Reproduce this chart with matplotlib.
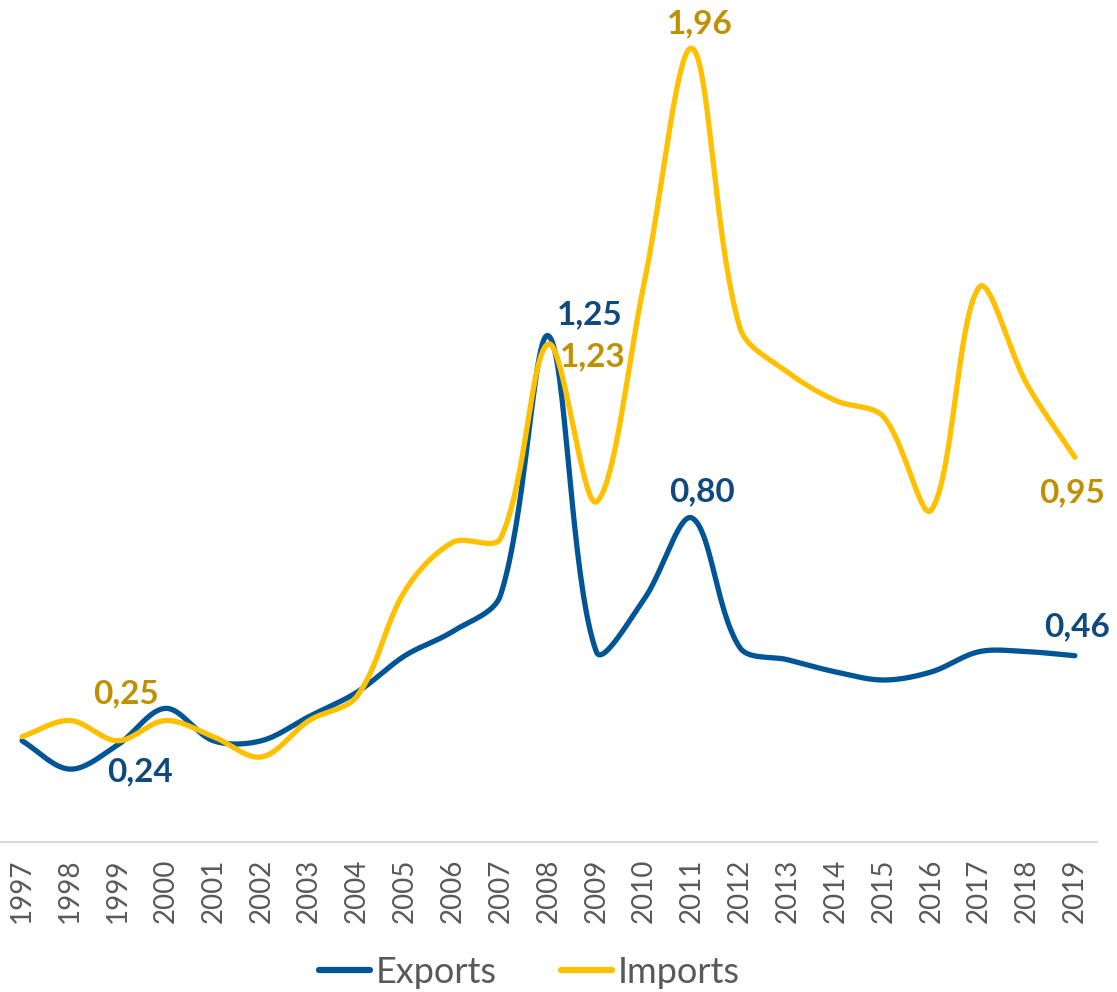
import numpy as np
import matplotlib
matplotlib.use('Agg')
import matplotlib.pyplot as plt

years = [str(y) for y in range(1997, 2020)]
exports = [0.25, 0.18, 0.24, 0.33, 0.25, 0.25, 0.31, 0.37, 0.46, 0.52, 0.61, 1.25,
           0.47, 0.60, 0.80, 0.48, 0.45, 0.42, 0.40, 0.42, 0.47, 0.47, 0.46]
imports = [0.26, 0.30, 0.25, 0.30, 0.26, 0.21, 0.30, 0.36, 0.62, 0.74, 0.75, 1.23,
           0.84, 1.38, 1.96, 1.27, 1.16, 1.09, 1.05, 0.82, 1.37, 1.13, 0.95]

# labelled points: (year index, offset in pixels)
exp_labels = [(2, (22, -27)), (11, (41, 21)), (14, (10, 26)), (22, (2, 29))]
imp_labels = [(2, (8, 47)), (11, (44, -13)), (14, (8, 24)), (22, (-3, -36))]

c_exp = '#005597'
c_imp = '#FFC000'
c_exp_txt = '#104A7C'
c_imp_txt = '#BF9000'
grey = '#595959'

# pixel scale used only to make the smoothing look like excel's
XS, YS = 47.86, 405.0


def smooth(x, y, n=40):
    p = np.column_stack([np.asarray(x) * XS, np.asarray(y) * YS]).astype(float)
    m = len(p)
    out = []
    t = np.linspace(0, 1, n)[:, None]
    for i in range(m - 1):
        p0 = p[max(i - 1, 0)]
        p1, p2 = p[i], p[i + 1]
        p3 = p[min(i + 2, m - 1)]
        d01 = np.hypot(*(p1 - p0))
        d12 = np.hypot(*(p2 - p1))
        d23 = np.hypot(*(p3 - p2))
        b1 = p1 + (p2 - p0) / 3 * (d12 / (d01 + d12))
        b2 = p2 - (p3 - p1) / 3 * (d12 / (d12 + d23))
        seg = ((1 - t) ** 3) * p1 + 3 * ((1 - t) ** 2) * t * b1 + 3 * (1 - t) * t ** 2 * b2 + t ** 3 * p2
        out.append(seg if i == 0 else seg[1:])
    out = np.vstack(out)
    return out[:, 0] / XS, out[:, 1] / YS


plt.rcParams['font.family'] = ['Lato', 'DejaVu Sans']

fig = plt.figure(figsize=(11.17, 9.92), dpi=100)
ax = fig.add_axes([0.0, 0.1512, 0.982, 0.8165])

x = np.arange(len(years))
sx, sy = smooth(x, exports)
ax.plot(sx, sy, color=c_exp, lw=3.8, solid_capstyle='round', label='Exports', zorder=3)
sx, sy = smooth(x, imports)
ax.plot(sx, sy, color=c_imp, lw=3.8, solid_capstyle='round', label='Imports', zorder=4)

for i, off in exp_labels:
    ax.annotate(f'{exports[i]:.2f}'.replace('.', ','), (x[i], exports[i]), xytext=off,
                textcoords='offset pixels', ha='center', va='center',
                fontsize=24, fontweight='bold', color=c_exp_txt, zorder=5)
for i, off in imp_labels:
    ax.annotate(f'{imports[i]:.2f}'.replace('.', ','), (x[i], imports[i]), xytext=off,
                textcoords='offset pixels', ha='center', va='center',
                fontsize=24, fontweight='bold', color=c_imp_txt, zorder=5)

ax.set_xlim(-0.46, len(years) - 1 + 0.46)
ax.set_ylim(0, 2.0)
ax.set_xticks(x)
ax.set_xticklabels(years, rotation=90, fontsize=20, color=grey)
ax.tick_params(axis='x', length=0, pad=12)
ax.set_yticks([])
for s in ['top', 'right', 'left']:
    ax.spines[s].set_visible(False)
ax.spines['bottom'].set_color('#D9D9D9')
ax.spines['bottom'].set_linewidth(1.5)

leg = fig.legend(loc='center', bbox_to_anchor=(0.474, 0.02), ncol=2, frameon=False,
                 fontsize=26, handlelength=1.4, handletextpad=0.15, columnspacing=1.8)
for t in leg.get_texts():
    t.set_color(grey)
for h in leg.legend_handles:
    h.set_linewidth(4.5)

fig.savefig('out.png', dpi=100)
